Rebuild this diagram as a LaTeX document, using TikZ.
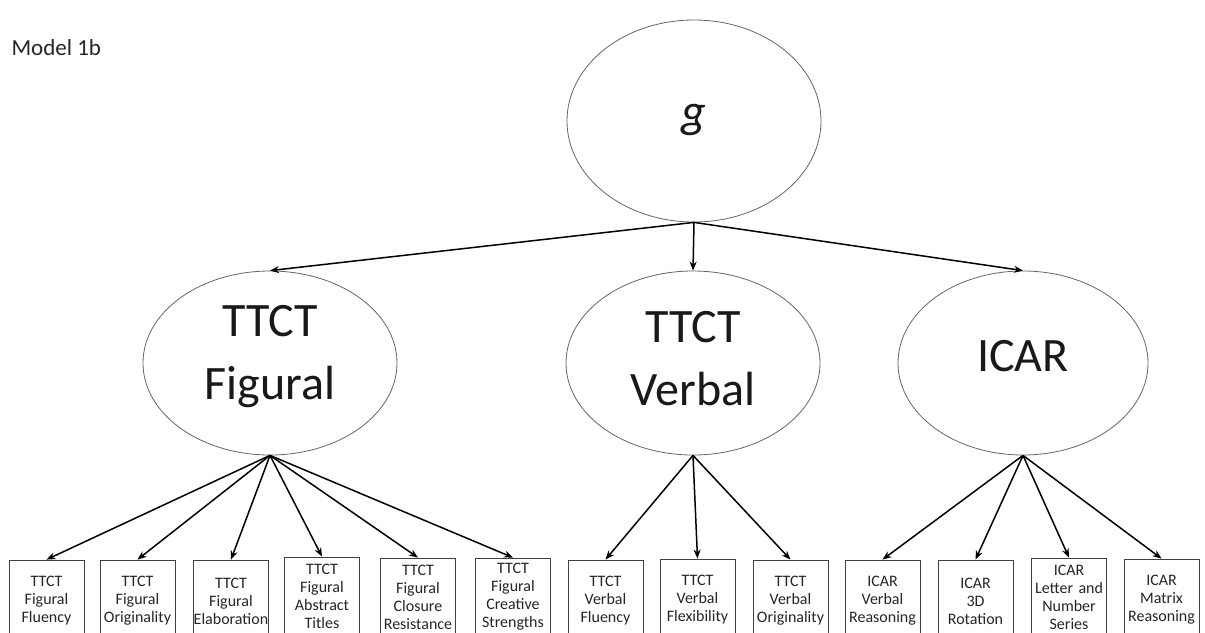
\documentclass[tikz,border=0pt]{standalone}
\usepackage{fontspec}
\setmainfont{Carlito}
\usetikzlibrary{arrows.meta,shapes.geometric}
\begin{document}
\begin{tikzpicture}[x=1pt,y=-1pt,
  lat/.style={ellipse,draw=black!60,line width=0.8pt,inner sep=0pt,minimum width=254pt,minimum height=184pt},
  lattext/.style={align=center,font=\fontsize{48}{63}\selectfont,text=black!90,inner sep=0pt},
  obs/.style={rectangle,draw=black!75,line width=0.8pt,inner sep=0pt,minimum width=75pt,text width=75pt,align=center,font=\fontsize{16}{18}\selectfont,text=black!85},
  arr/.style={-{Stealth[length=9pt,width=7pt]},line width=1.5pt,black}]
\clip (0,0) rectangle (1205,632);
\fill[white] (0,0) rectangle (1205,632);
\node[anchor=west,font=\fontsize{23}{26}\selectfont,text=black!85] (title) at (8,48) {Model 1b};
\node[lat,minimum height=202pt] (g) at (694,121) {};
\node[lattext,font=\fontsize{48}{63}\itshape] (gt) at (694,120) {g};
\node[lat] (fig) at (270,363) {};
\node[lattext] (figt) at (270,357) {TTCT\\Figural};
\node[lat] (verb) at (693,363) {};
\node[lattext] (verbt) at (693,359) {TTCT\\Verbal};
\node[lat,minimum width=250pt] (icar) at (1023,363) {};
\node[lattext] (icart) at (1023,356) {ICAR};
\draw[arr] (g.south) -- (fig.north);
\draw[arr] (g.south) -- (verb.north);
\draw[arr] (g.south) -- (icar.north);
\tikzset{three/.style={obs,minimum height=82pt},four/.style={obs,minimum height=78pt}}
\node[three] (f1) at (46.5,601) {TTCT\\Figural\\Fluency};
\node[three] (f2) at (137.5,601) {TTCT\\Figural\\Originality};
\node[three] (f3) at (231,601) {TTCT\\Figural\\Elaboration};
\node[four] (f4) at (322,596) {TTCT\\Figural\\Abstract\\Titles};
\node[four] (f5) at (418,597) {TTCT\\Figural\\Closure\\Resistance};
\node[four] (f6) at (513,597) {TTCT\\Figural\\Creative\\Strengths};
\node[three] (v1) at (605.5,601) {TTCT\\Verbal\\Fluency};
\node[three] (v2) at (697.5,600) {TTCT\\Verbal\\Flexibility};
\node[three] (v3) at (790.5,601) {TTCT\\Verbal\\Originality};
\node[three] (i1) at (882.5,601) {ICAR\\Verbal\\Reasoning};
\node[three] (i2) at (975.5,601) {ICAR\\3D\\Rotation};
\node[four] (i3) at (1069,597) {ICAR\\Letter and\\Number\\Series};
\node[three] (i4) at (1161.5,600) {ICAR\\Matrix\\Reasoning};
\foreach \b in {f1,f2,f3,f4,f5,f6} \draw[arr] (fig.south) -- (\b.north);
\foreach \b in {v1,v2,v3} \draw[arr] (verb.south) -- (\b.north);
\foreach \b in {i1,i2,i3,i4} \draw[arr] (icar.south) -- (\b.north);
\end{tikzpicture}
\end{document}
